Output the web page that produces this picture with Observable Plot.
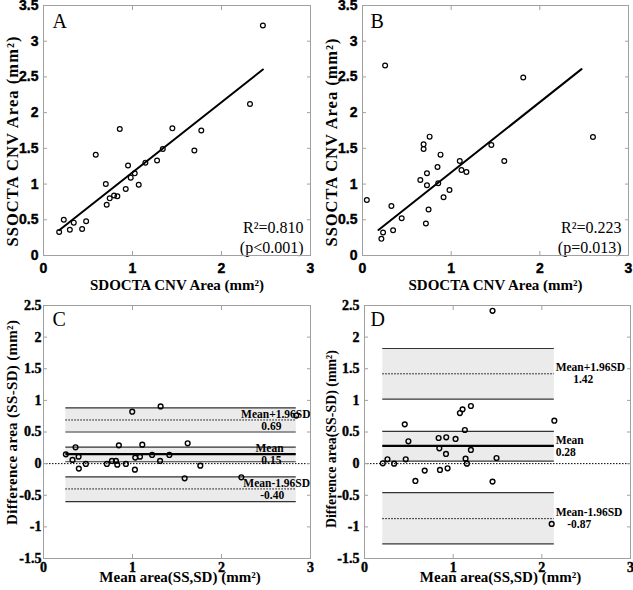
<!DOCTYPE html>
<html><head><meta charset="utf-8">
<script src="https://cdn.jsdelivr.net/npm/d3@7"></script>
<script src="https://cdn.jsdelivr.net/npm/@observablehq/plot@0.6"></script>
<style>
body{margin:0;background:#fff;}
#wrap{position:relative;width:633px;height:590px;overflow:hidden;}
#wrap > div{position:absolute;}
</style></head><body><div id="wrap"></div>
<script>
// ---------- Panel A: SDOCTA vs SSOCTA (mm²) ----------
const sdA = [0.176,0.228,0.296,0.34,0.434,0.479,0.587,0.70,0.71,0.744,0.793,0.83,0.857,0.924,0.95,0.98,1.025,1.07,1.145,1.276,1.34,1.448,1.695,1.773,2.32,2.465];
const ssA = [0.33,0.50,0.36,0.46,0.37,0.48,1.41,1.00,0.71,0.80,0.84,0.83,1.77,0.93,1.26,1.09,1.15,0.99,1.30,1.33,1.49,1.78,1.47,1.75,2.12,3.22];
// ---------- Panel B ----------
const sdB = [0.049,0.255,0.213,0.232,0.326,0.345,0.442,0.652,0.689,0.689,0.715,0.727,0.727,0.745,0.757,0.846,0.854,0.880,0.914,0.981,1.097,1.116,1.172,1.453,1.599,1.813,2.599];
const ssB = [0.778,2.661,0.233,0.322,0.694,0.354,0.522,1.058,1.556,1.491,0.447,1.151,0.983,0.643,1.664,1.240,1.011,1.412,0.815,0.918,1.323,1.198,1.170,1.547,1.323,2.493,1.659];
// fitted regression lines (slope, intercept, x-range) and stats
const fitSlope = [0.983, 0.983];
const fitIntercept = [0.181, 0.181];
const fitFrom = [0.176, 0.18];
const fitTo = [2.465, 2.47];
const r2Text = ["R²=0.810", "R²=0.223"];
const pText = ["(p<0.001)", "(p=0.013)"];
// ---------- Panel C: Bland-Altman ----------
const meanC = [0.251,0.326,0.36,0.394,0.397,0.476,0.712,0.769,0.814,0.829,0.847,0.926,0.997,1.027,1.031,1.084,1.11,1.22,1.31,1.316,1.414,1.586,1.62,1.762,2.223,2.84];
const diffC = [0.147,0.058,0.258,0.11,-0.079,-0.005,-0.005,0.042,0.042,-0.016,0.289,-0.005,0.821,-0.095,0.095,0.11,0.30,0.137,0.042,0.905,0.137,-0.232,0.321,-0.032,-0.216,0.76];
const limitsC = [0.69, 0.15, -0.40];          // Mean+1.96SD, Mean, Mean-1.96SD
const bandLowC = [0.50, 0.03, -0.60];
const bandHighC = [0.88, 0.26, -0.21];
// ---------- Panel D ----------
const meanD = [0.206,0.259,0.334,0.454,0.465,0.495,0.574,0.679,0.836,0.844,0.851,0.922,0.919,0.937,1.027,1.076,1.106,1.132,1.140,1.155,1.2,1.2,1.444,1.444,1.489,2.141,2.111];
const diffD = [0.005,0.068,0,0.621,0.068,0.353,-0.274,-0.11,0.405,0.242,-0.1,0.416,0.153,-0.074,0.39,0.80,0.858,0.532,0.079,0,0.911,0.216,2.416,-0.284,0.089,0.679,-0.953];
const limitsD = [1.42, 0.28, -0.87];
const bandLowD = [1.02, 0.04, -1.27];
const bandHighD = [1.82, 0.51, -0.46];
const limitNames = ["Mean+1.96SD", "Mean", "Mean-1.96SD"];
// ticks and titles
const xTicks = [0, 1, 2, 3];
const yTicksAB = [0, 0.5, 1, 1.5, 2, 2.5, 3, 3.5];
const yTicksCD = [-1.5, -1, -0.5, 0, 0.5, 1, 1.5, 2, 2.5];
const panelLetters = ["A", "B", "C", "D"];
const xTitleAB = "SDOCTA CNV Area (mm²)";
const yTitleAB = "SSOCTA CNV Area (mm²)";
const xTitleCD = "Mean area(SS,SD) (mm²)";
const yTitleC = "Difference area (SS-SD) (mm²)";
const yTitleD = "Difference area(SS-SD) (mm²)";

const fmt = d => String(d);
const gray = "#a0a0a0";
const serif = "'Liberation Serif', 'Times New Roman', serif";
const sans = "'Liberation Sans', Arial, sans-serif";

function axes(padX, padY, yTicks) {
  const c = {tickSize: -4, stroke: gray, fill: "black", label: null};
  return [
    Plot.axisX({...c, ticks: xTicks, tickFormat: fmt, tickPadding: padX}),
    Plot.axisY({...c, ticks: yTicks, tickFormat: fmt, tickPadding: padY}),
    Plot.axisX({...c, anchor: "top", ticks: xTicks, tickFormat: () => ""}),
    Plot.axisY({...c, anchor: "right", ticks: yTicks, tickFormat: () => ""})
  ];
}

function titles(letter, xt, yt, o) {
  return [
    Plot.text([letter], {frameAnchor: "top-left", dx: o.ldx, dy: o.ldy, textAnchor: "start", lineAnchor: "middle", fontFamily: serif, fontWeight: "normal", fontSize: 20, fill: "black"}),
    Plot.text([xt], {frameAnchor: "bottom", dx: o.xdx, dy: o.xdy, lineAnchor: "middle", fontFamily: serif, fontWeight: "bold", fontSize: 15, fill: "black"}),
    Plot.text([yt], {frameAnchor: "left", rotate: -90, dx: o.ydx, dy: o.ydy, textAnchor: "start", lineAnchor: "middle", fontFamily: serif, fontWeight: "bold", fontSize: o.yfs, fill: "black"})
  ];
}

function scatterPanel(i, sd, ss, box) {
  const fit = [fitFrom[i], fitTo[i]].map(x => ({x, y: fitIntercept[i] + fitSlope[i] * x}));
  const pts = sd.map((x, j) => ({x, y: ss[j]}));
  return Plot.plot({
    width: box.w, height: box.h,
    marginLeft: box.ml, marginRight: box.mr, marginTop: box.mt, marginBottom: box.mb,
    x: {domain: [0, 3]}, y: {domain: [0, 3.5]},
    style: {background: "white", overflow: "visible"},
    marks: [
      Plot.line(fit, {x: "x", y: "y", stroke: "black", strokeWidth: 2}),
      Plot.dot(pts, {x: "x", y: "y", r: 2.4, stroke: "black", strokeWidth: 1.2, fill: "none"}),
      Plot.text([r2Text[i]], {frameAnchor: "bottom-right", dx: -7, dy: -28, textAnchor: "end", lineAnchor: "middle", fontFamily: serif, fontWeight: "normal", fontSize: 16, fill: "black"}),
      Plot.text([pText[i]], {frameAnchor: "bottom-right", dx: -7, dy: -8, textAnchor: "end", lineAnchor: "middle", fontFamily: serif, fontWeight: "normal", fontSize: 16, fill: "black"}),
      Plot.frame({stroke: gray}),
      ...axes(12, 9, yTicksAB),
      ...titles(panelLetters[i], xTitleAB, yTitleAB, box.t)
    ]
  });
}

function baPanel(letter, mx, dy, limits, lo, hi, box, yTitle, labelPos) {
  const ext = d3.extent(mx);
  const bands = lo.map((l, k) => ({x1: ext[0], x2: ext[1], y1: l, y2: hi[k]}));
  const edges = lo.concat(hi).map(y => ({x1: ext[0], x2: ext[1], y}));
  const pts = mx.map((x, j) => ({x, y: dy[j]}));
  const lim = limits.map((y, k) => ({x1: ext[0], x2: ext[1], y, mean: k === 1}));
  const labels = [];
  limits.forEach((v, k) => {
    const p = labelPos[k];
    labels.push({x: p.nx, y: v, text: limitNames[k], dy: -6, anchor: p.na});
    labels.push({x: p.vx, y: v, text: v.toFixed(2), dy: 6, anchor: p.va});
  });
  return Plot.plot({
    width: box.w, height: box.h,
    marginLeft: box.ml, marginRight: box.mr, marginTop: box.mt, marginBottom: box.mb,
    x: {domain: [0, 3]}, y: {domain: [-1.5, 2.5]},
    style: {background: "white", overflow: "visible"},
    marks: [
      Plot.rect(bands, {x1: "x1", x2: "x2", y1: "y1", y2: "y2", fill: "#ebebeb"}),
      Plot.ruleY([0], {stroke: "black", strokeWidth: 1, strokeDasharray: "1.5,1.5"}),
      Plot.ruleY(edges, {x1: "x1", x2: "x2", y: "y", stroke: "#333", strokeWidth: 1.2}),
      Plot.ruleY(lim.filter(d => !d.mean), {x1: "x1", x2: "x2", y: "y", stroke: "black", strokeWidth: 1, strokeDasharray: "1.5,1.5"}),
      Plot.ruleY(lim.filter(d => d.mean), {x1: "x1", x2: "x2", y: "y", stroke: "black", strokeWidth: 2.2}),
      Plot.dot(pts, {x: "x", y: "y", r: 2.4, stroke: "black", strokeWidth: 1.4, fill: "none"}),
      ...labels.map(l => Plot.text([l], {x: "x", y: "y", text: "text", dy: l.dy, textAnchor: l.anchor, lineAnchor: "middle", fontFamily: serif, fontWeight: "bold", fontSize: 11.5, fill: "black"})),
      Plot.frame({stroke: gray}),
      ...axes(8, box.py, yTicksCD),
      ...titles(letter, xTitleCD, yTitle, box.t)
    ]
  });
}

function place(el, left, top, yTitle, target, tickFont, yfs) {
  const d = document.createElement("div");
  d.style.left = left + "px"; d.style.top = top + "px";
  d.appendChild(el);
  document.getElementById("wrap").appendChild(d);
  // heavy bold tick labels
  el.querySelectorAll("text").forEach(t => {
    if (/^-?\d(\.\d)?$/.test(t.textContent)) {
      t.style.fontFamily = tickFont; t.style.fontWeight = "700"; t.style.fontSize = "14px";
      t.style.stroke = "black"; t.style.strokeWidth = "0.4px";
    }
  });
  el.querySelectorAll("text").forEach(t => {
    if (t.textContent === yTitle) {
      const len = t.getComputedTextLength();
      if (len <= 0) return;
      if (target >= len) {
        t.style.letterSpacing = ((target - len) / (yTitle.length - 1)).toFixed(2) + "px";
      } else {
        t.style.fontSize = (yfs * target / len).toFixed(2) + "px";
      }
    }
  });
}

// y-title: text starts at bottom (textAnchor start), dy = start offset from frame middle
const A = scatterPanel(0, sdA, ssA, {w: 316, h: 295, ml: 43, mr: 6, mt: 5, mb: 40, t: {ldx: 9, ldy: 16, xdx: 0, xdy: 30, ydx: -31, ydy: 116, yfs: 16.5}});
place(A, 0, 0, yTitleAB, 210, sans, 16.5);
const B = scatterPanel(1, sdB, ssB, {w: 317, h: 295, ml: 46, mr: 5, mt: 5, mb: 40, t: {ldx: 8, ldy: 16, xdx: 0, xdy: 30, ydx: -31, ydy: 116, yfs: 16.5}});
place(B, 316, 0, yTitleAB, 208, sans, 16.5);
const C = baPanel("C", meanC, diffC, limitsC, bandLowC, bandHighC,
  {w: 316, h: 295, ml: 43, mr: 6, mt: 10, mb: 32, py: 6, t: {ldx: 9, ldy: 14, xdx: 3, xdy: 19, ydx: -31, ydy: 93, yfs: 15}},
  yTitleC,
  [{nx: 2.61, na: "middle", vx: 2.56, va: "middle"}, {nx: 2.54, na: "middle", vx: 2.56, va: "middle"}, {nx: 2.62, na: "middle", vx: 2.57, va: "middle"}]);
place(C, 0, 295, yTitleC, 205, serif, 15);
const D = baPanel("D", meanD, diffD, limitsD, bandLowD, bandHighD,
  {w: 317, h: 295, ml: 48, mr: 3, mt: 10, mb: 32, py: 9, t: {ldx: 6, ldy: 14, xdx: 3, xdy: 19, ydx: -33, ydy: 96, yfs: 14.5}},
  yTitleD,
  [{nx: 2.156, na: "start", vx: 2.467, va: "middle"}, {nx: 2.156, na: "start", vx: 2.156, va: "start"}, {nx: 2.156, na: "start", vx: 2.422, va: "middle"}]);
place(D, 316, 295, yTitleD, 178, serif, 14.5);
</script>
</body></html>
